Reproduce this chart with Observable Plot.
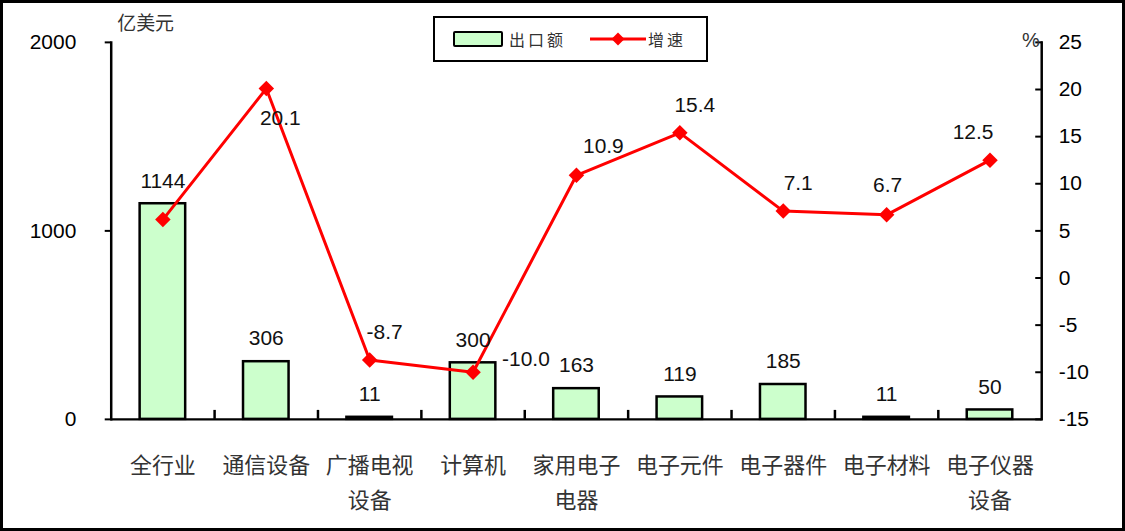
<!DOCTYPE html>
<html>
<head>
<meta charset="utf-8">
<script src="https://cdn.jsdelivr.net/npm/d3@7"></script>
<script src="https://cdn.jsdelivr.net/npm/@observablehq/plot@0.6"></script>
<style>
  html, body { margin: 0; padding: 0; background: #fff; }
  #wrap { position: relative; width: 1125px; height: 531px; box-sizing: border-box; border: 3px solid #000; overflow: hidden; }
  #chart { position: absolute; left: -3px; top: -3px; }
  #legend { position: absolute; left: 430px; top: 13px; width: 275px; height: 46px; box-sizing: border-box; border: 2.5px solid #000; background: #fff;
            display: flex; align-items: center; font-family: "Noto Sans CJK SC", sans-serif; font-size: 16px; color: #333; }
  .sw-bar { display: inline-block; width: 46px; height: 12px; background: #ccffcc; border: 2.5px solid #000; border-radius: 2px; margin-left: 18px; margin-right: 6px; }
  .lg-txt { letter-spacing: 3px; }
</style>
</head>
<body>
<div id="wrap">
  <div id="chart"></div>
  <div id="legend">
    <span class="sw-bar"></span><span class="lg-txt">出口额</span>
    <svg width="56" height="16" style="margin-left:24px;margin-right:2px"><line x1="0" y1="8" x2="56" y2="8" stroke="#ff0000" stroke-width="3"/><path d="M28,1.5 L34.5,8 L28,14.5 L21.5,8 Z" fill="#ff0000"/></svg>
    <span class="lg-txt">增速</span>
  </div>
</div>
<script>
const categories = ["全行业","通信设备","广播电视\n设备","计算机","家用电子\n电器","电子元件","电子器件","电子材料","电子仪器\n设备"];
const exportValues = [1144, 306, 11, 300, 163, 119, 185, 11, 50];
const growthRates = [6.2, 20.1, -8.7, -10.0, 10.9, 15.4, 7.1, 6.7, 12.5];
const leftTicks = [0, 1000, 2000];
const rightTicks = [-15, -10, -5, 0, 5, 10, 15, 20, 25];
const leftUnit = "亿美元";
const rightUnit = "%";

const leftMax = 2000, rightMin = -15, rightMax = 25;
const toLeft = g => (g - rightMin) / (rightMax - rightMin) * leftMax;
const fromLeft = v => v / leftMax * (rightMax - rightMin) + rightMin;

const rows = categories.map((c, i) => ({category: c, value: exportValues[i], growth: growthRates[i], gy: toLeft(growthRates[i]), i}));

const W = 1125, H = 531, mL = 111, mR = 81, mT = 42, mB = 111;
const bw = (W - mL - mR) / categories.length;
const numFont = "'Liberation Sans', Arial, sans-serif";
const cjkFont = "'Noto Sans CJK SC', sans-serif";

const labelStyle = {fontSize: 21, fontFamily: numFont, fill: "#111"};

const chart = Plot.plot({
  width: W, height: H,
  marginLeft: mL, marginRight: mR, marginTop: mT, marginBottom: mB,
  x: {domain: categories, padding: 0, round: false},
  y: {domain: [0, leftMax]},
  style: {background: "transparent", color: "#000"},
  marks: [
    Plot.barY(rows, {x: "category", y: "value", fill: "#ccffcc", stroke: "#000", strokeWidth: 2.5, insetLeft: 29, insetRight: 29}),
    Plot.frame({anchor: "left", stroke: "#000", strokeWidth: 2.5}),
    Plot.frame({anchor: "right", stroke: "#000", strokeWidth: 2.5}),
    Plot.ruleY([0], {stroke: "#000", strokeWidth: 2.5}),
    Plot.axisX({ticks: categories.slice(1), anchor: "bottom", tickSize: 9, dx: -bw / 2, dy: -9, tickFormat: () => "", label: null, stroke: "#000", strokeWidth: 2.5}),
    Plot.axisY({ticks: leftTicks, anchor: "left", tickSize: 6, tickPadding: 29, label: null, fontSize: 21, fontFamily: numFont, tickFormat: d => String(d), stroke: "#000", strokeWidth: 2}),
    Plot.axisY({ticks: rightTicks.map(toLeft), anchor: "right", tickSize: 7, dx: -7, label: null, tickFormat: () => "", stroke: "#000", strokeWidth: 2}),
    Plot.axisY({ticks: rightTicks.map(toLeft), anchor: "right", tickSize: 0, tickPadding: 17, label: null, fontSize: 21, fontFamily: numFont, tickFormat: d => String(Math.round(fromLeft(d)))}),
    Plot.axisX({tickSize: 0, tickPadding: 29, label: null, fontSize: 22, fontFamily: cjkFont, lineHeight: 1.6, letterSpacing: 2, fill: "#333"}),
    Plot.line(rows, {x: "category", y: "gy", stroke: "#ff0000", strokeWidth: 3}),
    Plot.dot(rows, {x: "category", y: "gy", symbol: "diamond2", r: 7, fill: "#ff0000", stroke: "none"}),
    Plot.text(rows, {x: "category", y: "value", text: d => String(d.value), dy: -23, ...labelStyle}),
    Plot.text(rows, {filter: d => [2, 5, 6].includes(d.i), x: "category", y: "gy", text: d => d.growth.toFixed(1), dx: 15, dy: -28, ...labelStyle}),
    Plot.text(rows, {filter: d => d.i === 1, x: "category", y: "gy", text: d => d.growth.toFixed(1), dx: 14, dy: 30, ...labelStyle}),
    Plot.text(rows, {filter: d => d.i === 3, x: "category", y: "gy", text: d => d.growth.toFixed(1), dx: 53, dy: -13, ...labelStyle}),
    Plot.text(rows, {filter: d => d.i === 4, x: "category", y: "gy", text: d => d.growth.toFixed(1), dx: 27, dy: -29, ...labelStyle}),
    Plot.text(rows, {filter: d => d.i === 7, x: "category", y: "gy", text: d => d.growth.toFixed(1), dx: 1, dy: -30, ...labelStyle}),
    Plot.text(rows, {filter: d => d.i === 8, x: "category", y: "gy", text: d => d.growth.toFixed(1), dx: -17, dy: -28, ...labelStyle}),
    Plot.text([leftUnit], {frameAnchor: "top-left", text: d => d, dx: 6, dy: -26, textAnchor: "start", lineAnchor: "top", fontSize: 19, fontFamily: cjkFont, fill: "#333"}),
    Plot.text([rightUnit], {frameAnchor: "top-right", text: d => d, dx: -2, dy: -10, textAnchor: "end", lineAnchor: "top", fontSize: 20, fontFamily: numFont, fill: "#333"})
  ]
});
document.getElementById("chart").appendChild(chart);
</script>
</body>
</html>
